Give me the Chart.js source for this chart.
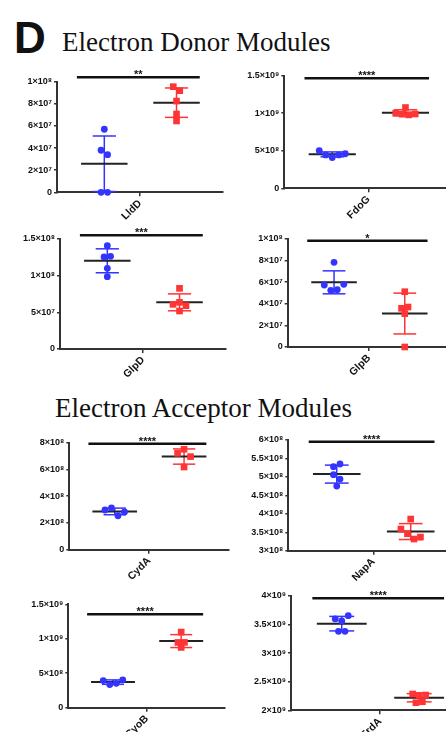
<!DOCTYPE html>
<html><head><meta charset="utf-8">
<script src="https://cdn.jsdelivr.net/npm/chart.js@4/dist/chart.umd.min.js"></script>
<style>
html,body{margin:0;padding:0;background:#fff;width:446px;height:732px;overflow:hidden;position:relative}
canvas{position:absolute;left:0;top:0}
.t{position:absolute;white-space:nowrap;line-height:1;color:#111}
</style></head><body>
<div class="t" style="left:14px;top:13px;font:bold 44px 'Liberation Sans',Arial,sans-serif">D</div>
<div class="t" style="left:62px;top:27px;font:27px 'Liberation Serif','Times New Roman',serif">Electron Donor Modules</div>
<div class="t" style="left:55px;top:393px;font:27px 'Liberation Serif','Times New Roman',serif">Electron Acceptor Modules</div>
<script>
// ---------- data ----------
const genes = ['LldD','FdoG','GlpD','GlpB','CydA','NapA','CyoB','FrdA'];
const blueLldD = [5.7e7, 3.8e7, 3.4e7, 0, 0];
const redLldD  = [9.55e7, 9.19e7, 8.25e7, 7.08e7, 6.45e7];
const blueFdoG = [5.0e8, 4.45e8, 4.1e8, 4.45e8, 4.6e8];
const redFdoG  = [1.0e9, 0.987e9, 1.076e9, 0.978e9, 0.99e9];
const blueGlpD = [1.409e8, 1.255e8, 1.264e8, 1.1e8, 0.986e8];
const redGlpD  = [0.827e8, 0.609e8, 0.636e8, 0.591e8, 0.518e8];
const blueGlpB = [7.84e7, 5.74e7, 5.25e7, 5.31e7, 5.8e7];
const redGlpB  = [5.12e7, 3.58e7, 3.70e7, 3.09e7, 0];
const blueCydA = [2.97e8, 3.12e8, 2.54e8, 2.82e8];
const redCydA  = [7.21e8, 7.51e8, 6.96e8, 6.18e8];
const blueNapA = [5.276e8, 5.349e8, 5.06e8, 4.942e8, 4.752e8];
const redNapA  = [3.858e8, 3.587e8, 3.461e8, 3.316e8, 3.370e8];
const blueCyoB = [0.393e9, 0.335e9, 0.354e9, 0.403e9];
const redCyoB  = [1.097e9, 0.947e9, 0.947e9, 0.874e9];
const blueFrdA = [3.598e9, 3.563e9, 3.656e9, 3.382e9, 3.382e9];
const redFrdA  = [2.285e9, 2.262e9, 2.267e9, 2.133e9, 2.15e9];

const blueSets = [blueLldD, blueFdoG, blueGlpD, blueGlpB, blueCydA, blueNapA, blueCyoB, blueFrdA];
const redSets  = [redLldD, redFdoG, redGlpD, redGlpB, redCydA, redNapA, redCyoB, redFrdA];
const stars    = ['**','****','***','*','****','****','****','****'];
const sigLevel = [1.04e8, 1.465e9, 1.55e8, 9.84e7, 7.93e8, 5.95e8, 1.355e9, 3.96e9];
const yMin  = [0, 0, 0, 0, 0, 3e8, 0, 2e9];
const yMax  = [1e8, 1.5e9, 1.5e8, 1e8, 8e8, 6e8, 1.5e9, 4e9];
const yStep = [2e7, 5e8, 5e7, 2e7, 2e8, 5e7, 5e8, 5e8];

// ---------- layout / style ----------
// [y-axis x, top of y range, bottom of y range, right end of x axis] in page px
const boxes = [
  [57, 81.7, 192.3, 223],
  [284.3, 75.7, 188.3, 452.6],
  [60, 239, 349, 226],
  [287.7, 239, 347, 450.3],
  [69.3, 442.7, 549.7, 228.7],
  [288.3, 440, 550.7, 458.3],
  [68.3, 604.3, 707.7, 225.1],
  [291, 596, 710.3, 469]
];
const CW = 480, CH = 800, XH = 42;
const BLUE = '#3434ff', RED = '#ff3434', DARK = '#222';
const BLUE_X = 0.285, RED_X = 0.72, MEAN_HALF = 0.14, CAP_HALF = 0.07;
const GAP = 5, SPACING = 6.5;
const FONT = "'Liberation Sans', Arial, sans-serif";
const SUP = '⁰¹²³⁴⁵⁶⁷⁸⁹';

function sci(v) {
  if (Math.abs(v) < 1) return '0';
  const e = Math.floor(Math.log10(v) + 1e-9);
  const m = Math.round(v / Math.pow(10, e) * 10) / 10;
  return m + '×10' + String(e).split('').map(d => SUP[+d]).join('');
}
function stats(a) {
  const n = a.length, m = a.reduce((s, v) => s + v, 0) / n;
  const sd = Math.sqrt(a.reduce((s, v) => s + (v - m) * (v - m), 0) / (n - 1));
  return { m, sd };
}
function seg(ctx, x1, y1, x2, y2) { ctx.beginPath(); ctx.moveTo(x1, y1); ctx.lineTo(x2, y2); ctx.stroke(); }

function makePanel(i) {
  const box = boxes[i];
  const groups = [
    { values: blueSets[i], center: BLUE_X, color: BLUE },
    { values: redSets[i], center: RED_X, color: RED }
  ];
  const cv = document.createElement('canvas');
  cv.width = CW; cv.height = CH;
  document.body.appendChild(cv);
  const plugin = {
    id: 'bars' + i,
    beforeDatasetsDraw(chart) {
      const ctx = chart.ctx, xs = chart.scales.x, ys = chart.scales.y;
      ctx.save();
      ctx.lineCap = 'butt';
      groups.forEach(g => {
        const { m, sd } = stats(g.values);
        const cx = xs.getPixelForValue(g.center);
        const yT = ys.getPixelForValue(m + sd);
        const yB = ys.getPixelForValue(Math.max(m - sd, ys.min));
        const yM = ys.getPixelForValue(m);
        const cl = xs.getPixelForValue(g.center - CAP_HALF), cr = xs.getPixelForValue(g.center + CAP_HALF);
        ctx.strokeStyle = g.color; ctx.lineWidth = 1.5;
        seg(ctx, cx, yT, cx, yB); seg(ctx, cl, yT, cr, yT); seg(ctx, cl, yB, cr, yB);
        ctx.strokeStyle = DARK; ctx.lineWidth = 2;
        seg(ctx, xs.getPixelForValue(g.center - MEAN_HALF), yM, xs.getPixelForValue(g.center + MEAN_HALF), yM);
      });
      ctx.restore();
    },
    afterDatasetsDraw(chart) {
      const ctx = chart.ctx, xs = chart.scales.x, ys = chart.scales.y;
      const x1 = xs.getPixelForValue(BLUE_X - 0.165), x2 = xs.getPixelForValue(RED_X + 0.14);
      const y = ys.getPixelForValue(sigLevel[i]);
      ctx.save();
      ctx.strokeStyle = '#111'; ctx.lineWidth = 2.5;
      seg(ctx, x1, y, x2, y);
      ctx.fillStyle = '#111';
      ctx.font = 'bold 11px ' + FONT;
      ctx.textAlign = 'center'; ctx.textBaseline = 'alphabetic';
      ctx.fillText(stars[i], (x1 + x2) / 2, y + 1);
      ctx.restore();
    }
  };
  const tickFont = { family: FONT, size: 9, weight: 'bold' };
  const xFont = { family: FONT, size: 10.5, weight: 'bold' };
  const chart = new Chart(cv, {
    type: 'scatter',
    data: {
      datasets: groups.map(g => ({
        data: g.values.map(v => ({ x: g.center, y: v })),
        pointStyle: g.color === BLUE ? 'circle' : 'rect',
        pointRadius: g.color === BLUE ? 3.4 : 4.7,
        backgroundColor: g.color, borderColor: g.color, borderWidth: 0,
        clip: false
      }))
    },
    options: {
      responsive: false, animation: false, devicePixelRatio: 1, events: [],
      layout: { padding: { left: 0, top: box[1], right: CW - box[3], bottom: CH - box[2] - XH } },
      plugins: { legend: { display: false }, tooltip: { enabled: false } },
      scales: {
        x: {
          type: 'linear', min: 0, max: 1,
          afterBuildTicks: s => { s.ticks = [{ value: 0.5 }]; },
          afterFit: s => { s.height = XH; },
          ticks: { callback: () => genes[i], minRotation: 45, maxRotation: 45, font: xFont, color: '#111', padding: 1 },
          grid: { drawOnChartArea: false, tickLength: 4, color: '#333', lineWidth: 1.5 },
          border: { color: '#333', width: 2 }
        },
        y: {
          type: 'linear', min: yMin[i], max: yMax[i],
          afterFit: s => { s.width = box[0]; },
          ticks: { stepSize: yStep[i], callback: v => sci(v), font: tickFont, color: '#111', padding: 2 },
          grid: { drawOnChartArea: false, tickLength: 3, color: '#333', lineWidth: 1.5 },
          border: { color: '#333', width: 2 }
        }
      }
    },
    plugins: [plugin]
  });
  // beeswarm-style spreading of overlapping points
  const xs = chart.scales.x, ys = chart.scales.y;
  groups.forEach((g, di) => {
    const vals = g.values;
    const py = vals.map(v => ys.getPixelForValue(v));
    const order = vals.map((_, k) => k).sort((a, b) => py[a] - py[b]);
    const clusters = []; let cur = [order[0]];
    for (let k = 1; k < order.length; k++) {
      if (py[order[k]] - py[order[k - 1]] < GAP) cur.push(order[k]);
      else { clusters.push(cur); cur = [order[k]]; }
    }
    clusters.push(cur);
    const cx = xs.getPixelForValue(g.center);
    const out = new Array(vals.length);
    clusters.forEach(c => {
      c.sort((a, b) => a - b);
      c.forEach((idx, k) => { out[idx] = xs.getValueForPixel(cx + (k - (c.length - 1) / 2) * SPACING); });
    });
    chart.data.datasets[di].data = vals.map((v, k) => ({ x: out[k], y: v }));
  });
  chart.update('none');
}
for (let i = 0; i < genes.length; i++) makePanel(i);
</script>
</body></html>
